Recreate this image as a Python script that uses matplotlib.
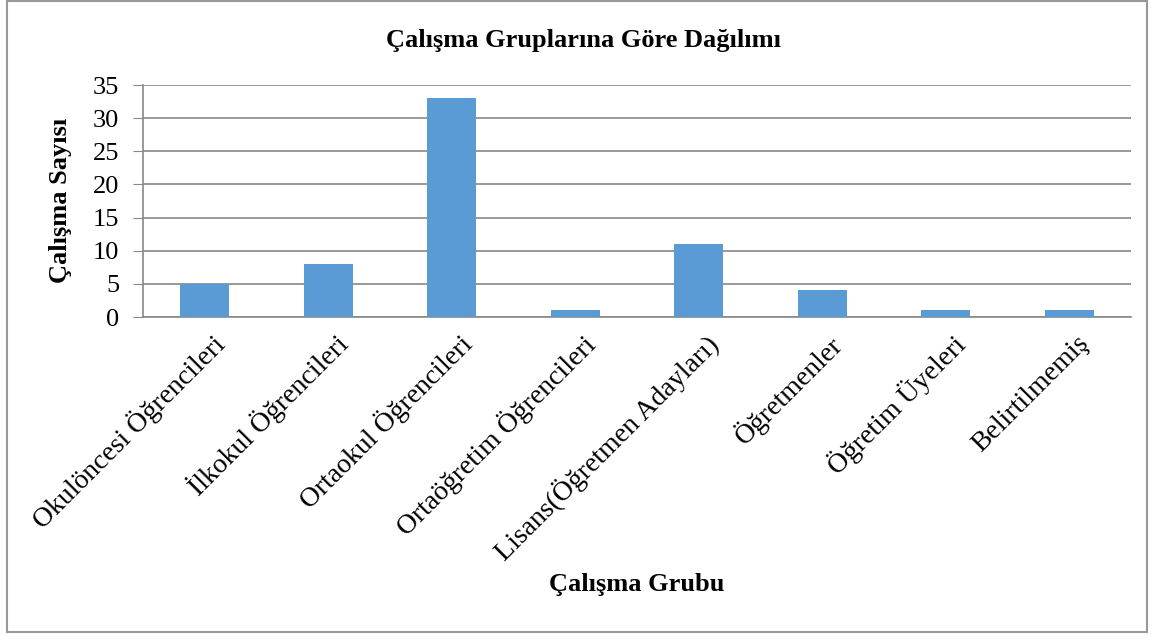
import matplotlib
matplotlib.use("Agg")
from matplotlib import pyplot as plt
from matplotlib.patches import Rectangle
import matplotlib.transforms as mtransforms
import numpy as np

categories = ["Okulöncesi Öğrencileri", "İlkokul Öğrencileri", "Ortaokul Öğrencileri",
              "Ortaöğretim Öğrencileri", "Lisans(Öğretmen Adayları)", "Öğretmenler",
              "Öğretim Üyeleri", "Belirtilmemiş"]
counts = [5, 8, 33, 1, 11, 4, 1, 1]
y_ticks = [0, 5, 10, 15, 20, 25, 30, 35]

plt.rcParams['font.family'] = ['Liberation Serif', 'DejaVu Serif']

W, H = 1156, 637
fig = plt.figure(figsize=(W / 100, H / 100), dpi=100)
ax = fig.add_axes([143 / W, 1 - 317 / H, (1131 - 143) / W, (317 - 85) / H])

x = np.arange(len(categories))
ax.bar(x, counts, width=0.4, color="#5B9BD5", zorder=3)

ax.set_xlim(-0.5, len(categories) - 0.5)
ax.set_ylim(0, 35)
ax.set_yticks(y_ticks)
ax.yaxis.grid(True, color="#888888", linewidth=1.2, zorder=0)
ax.tick_params(axis='y', length=7, color="#888888", labelsize=19, pad=10)
ax.tick_params(axis='x', length=0, labelsize=20, pad=0)

ax.set_xticks(x)
labels = ax.set_xticklabels(categories, rotation=45, ha='right', va='center',
                            rotation_mode='anchor')
# shift label ends slightly right of bar centres, below the axis
offset = mtransforms.ScaledTranslation(16 / 100, -23 / 100, fig.dpi_scale_trans)
for lab in labels:
    lab.set_transform(lab.get_transform() + offset)

for side in ['top', 'right']:
    ax.spines[side].set_visible(False)
ax.spines['left'].set_color("#888888")
ax.spines['bottom'].set_color("#888888")
ax.spines['left'].set_linewidth(1.2)
ax.spines['bottom'].set_linewidth(1.2)

fig.text(584 / W, 1 - 40 / H, "Çalışma Gruplarına Göre Dağılımı", ha='center', va='center',
         fontsize=19, fontweight='bold')
fig.text(60 / W, 1 - 200 / H, "Çalışma Sayısı", ha='center', va='center',
         rotation=90, fontsize=19, fontweight='bold')
fig.text(637 / W, 1 - 585 / H, "Çalışma Grubu", ha='center', va='center',
         fontsize=19, fontweight='bold')

fig.patches.append(Rectangle((7 / W, 1 - 632 / H), (1147 - 7) / W, (632 - 1) / H,
                             transform=fig.transFigure, fill=False,
                             edgecolor="#999999", linewidth=1.5))

fig.savefig("out.png", dpi=100)
